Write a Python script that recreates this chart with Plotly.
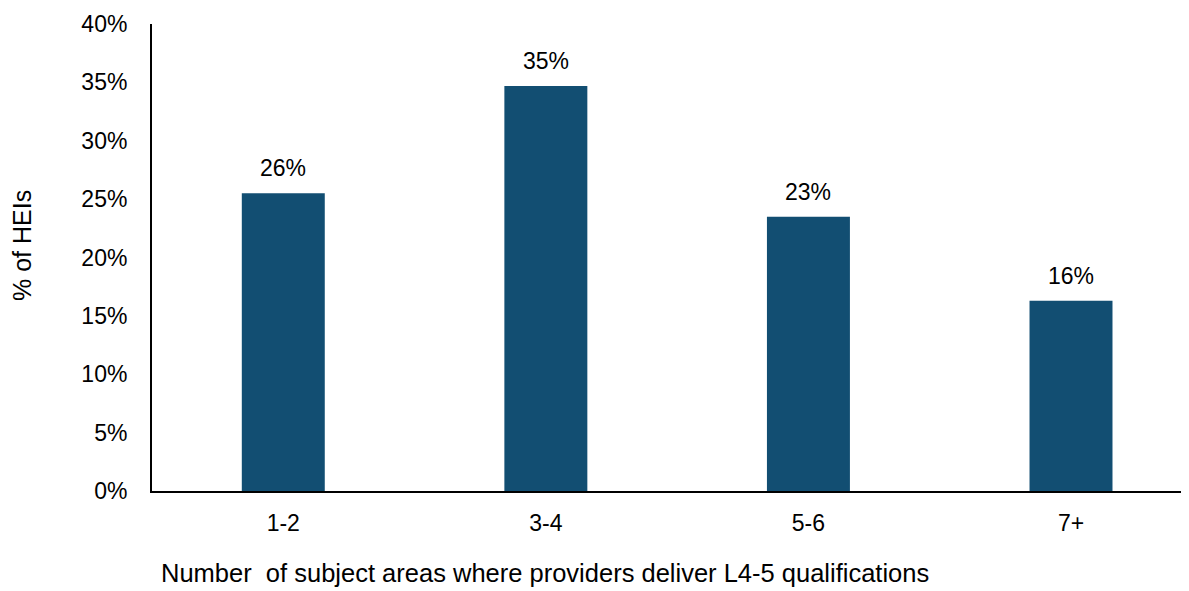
import plotly.graph_objects as go

categories = ["1-2", "3-4", "5-6", "7+"]
values = [25.5, 34.7, 23.5, 16.3]
labels = ["26%", "35%", "23%", "16%"]
y_ticks = [0, 5, 10, 15, 20, 25, 30, 35, 40]
y_tick_text = ["0%", "5%", "10%", "15%", "20%", "25%", "30%", "35%", "40%"]
x_title = "Number\u00a0 of subject areas where providers deliver L4-5 qualifications"
y_title = "% of HEIs"

FONT = "Liberation Sans, Arial, sans-serif"
OFF = 8  # page body margin offset
W, H = 1189 - OFF, 591 - OFF
L, R, T, B = 152 - OFF, 0, 24 - OFF, 100
PW, PH = W - L - R, H - T - B

fig = go.Figure()
fig.add_trace(go.Bar(
    x=list(range(len(categories))), y=values,
    marker=dict(color="#124E72", line=dict(width=0)),
    hoverinfo="skip",
))

for i, (v, t) in enumerate(zip(values, labels)):
    fig.add_annotation(x=i, y=v, text=t, showarrow=False, yanchor="bottom",
                       yshift=10, font=dict(family=FONT, size=23, color="#000000"))

# x-axis title (left-aligned under plot, as in reference)
fig.add_annotation(xref="paper", yref="paper",
                   x=(160 - 152) / PW, y=(491 - 588) / PH,
                   xanchor="left", yanchor="bottom", text=x_title, showarrow=False,
                   borderpad=0,
                   font=dict(family=FONT, size=25.5, color="#000000"))
# y-axis title
fig.add_annotation(xref="paper", yref="paper",
                   x=(22 - 152) / PW, y=(491 - 246) / PH,
                   xanchor="center", yanchor="middle", textangle=-90,
                   text=y_title, showarrow=False,
                   font=dict(family=FONT, size=25, color="#000000"))

fig.update_layout(
    width=W, height=H,
    margin=dict(l=L, r=R, t=T, b=B, pad=0),
    plot_bgcolor="white", paper_bgcolor="white",
    bargap=0.684, showlegend=False,
    font=dict(family=FONT, size=23, color="#000000"),
    xaxis=dict(
        range=[-0.5, (1189 - 282.5) / 262.8],
        tickmode="array", tickvals=list(range(len(categories))), ticktext=categories,
        showline=True, linecolor="#000000", linewidth=2, showgrid=False, zeroline=False,
        ticks="", ticklabelstandoff=10,
        tickfont=dict(family=FONT, size=23, color="#000000"),
    ),
    yaxis=dict(
        range=[0, 40], tickmode="array", tickvals=y_ticks, ticktext=y_tick_text,
        showline=True, linecolor="#000000", linewidth=2, showgrid=False, zeroline=False,
        ticks="", ticklabelstandoff=18,
        tickfont=dict(family=FONT, size=23, color="#000000"),
    ),
)

fig.write_html("out.html")
